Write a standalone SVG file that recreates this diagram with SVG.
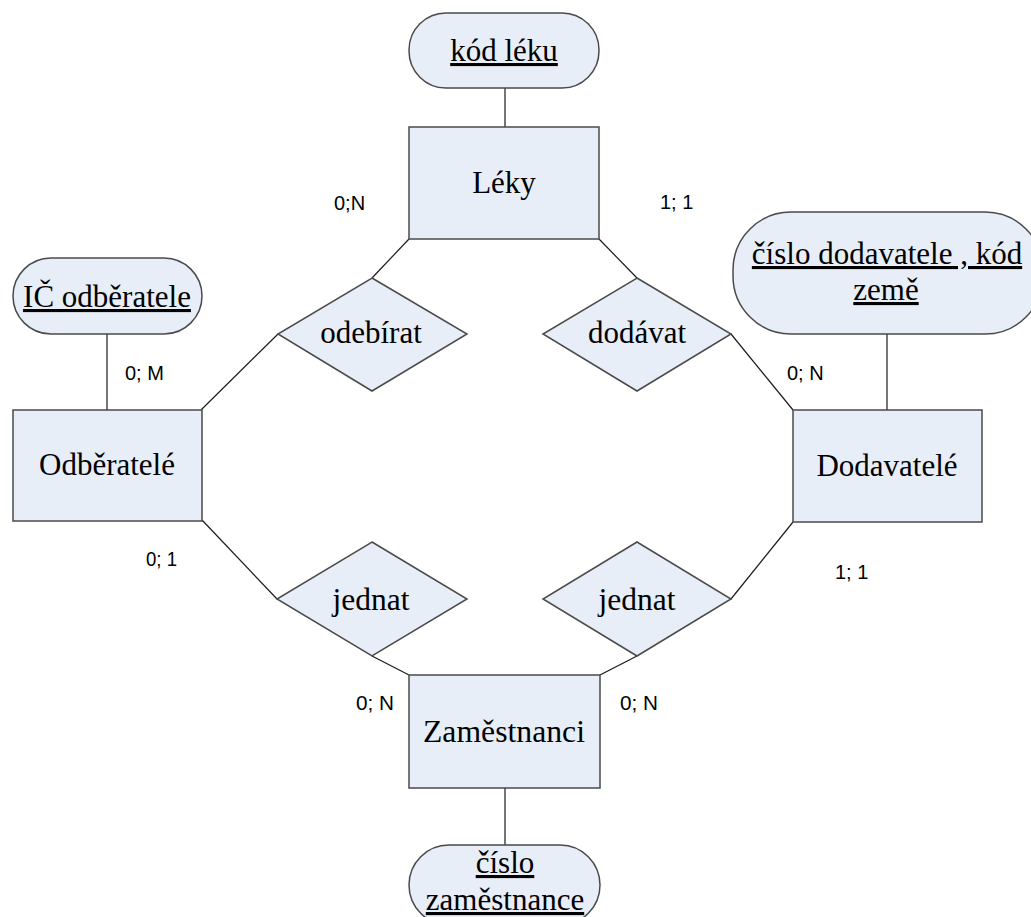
<svg xmlns="http://www.w3.org/2000/svg" width="1031" height="917" viewBox="0 0 1031 917">
<style>
.shape{fill:#E8EEF8;stroke:#4a4a4a;stroke-width:1.5}
.lbl{font-family:"Liberation Serif","Times New Roman",serif;font-size:31px;fill:#000;text-anchor:middle}
.key{text-decoration:underline}
.card{font-family:"Liberation Sans",Arial,sans-serif;font-size:20px;fill:#000}
.conn line{stroke:#1a1a1a;stroke-width:1.2}
</style>
<rect x="0" y="0" width="1031" height="917" fill="#fff"/>
<g class="conn" id="connectors">
<line x1="505" y1="88" x2="505" y2="127"/>
<line x1="107" y1="334" x2="107" y2="410"/>
<line x1="887" y1="334" x2="887" y2="410"/>
<line x1="505" y1="788" x2="505" y2="845"/>
<line x1="409" y1="239" x2="372" y2="278"/>
<line x1="278" y1="334" x2="201" y2="410"/>
<line x1="599" y1="239" x2="637" y2="278"/>
<line x1="731" y1="334" x2="793" y2="410"/>
<line x1="202" y1="520" x2="277" y2="599"/>
<line x1="372" y1="656" x2="409" y2="675"/>
<line x1="637" y1="656" x2="600" y2="675"/>
<line x1="731" y1="599" x2="793" y2="522"/>
</g>
<g id="attr-kod-leku">
<rect class="shape" x="409" y="13" width="190" height="75" rx="37" ry="37"/>
<text class="lbl key" x="504" y="61">kód léku</text>
</g>
<g id="entity-leky">
<rect class="shape" x="409" y="127" width="190" height="112"/>
<text class="lbl" x="504" y="193">Léky</text>
</g>
<g id="attr-ic">
<rect class="shape" x="13" y="258" width="189" height="76" rx="38" ry="38"/>
<text class="lbl key" x="107" y="307">IČ odběratele</text>
</g>
<g id="entity-odberatele">
<rect class="shape" x="13" y="410" width="189" height="111"/>
<text class="lbl" x="107" y="475">Odběratelé</text>
</g>
<g id="rel-odebirat">
<polygon class="shape" points="372,278 467,334 372,391 278,334"/>
<text class="lbl" x="371" y="343">odebírat</text>
</g>
<g id="rel-dodavat">
<polygon class="shape" points="637,278 731,334 637,391 543,334"/>
<text class="lbl" x="637" y="343">dodávat</text>
</g>
<g id="attr-cislo-dodavatele">
<rect class="shape" x="733" y="212" width="310" height="122" rx="58" ry="58"/>
<text class="lbl key" x="887" y="264">číslo dodavatele , kód</text>
<text class="lbl key" x="886" y="300">země</text>
</g>
<g id="entity-dodavatele">
<rect class="shape" x="793" y="410" width="189" height="112"/>
<text class="lbl" x="887" y="476">Dodavatelé</text>
</g>
<g id="rel-jednat-1">
<polygon class="shape" points="372,542 467,599 372,656 277,599"/>
<text class="lbl" x="371" y="610" font-size="29" textLength="77" lengthAdjust="spacingAndGlyphs">jednat</text>
</g>
<g id="rel-jednat-2">
<polygon class="shape" points="637,542 731,599 637,656 543,599"/>
<text class="lbl" x="637" y="610" font-size="29" textLength="77" lengthAdjust="spacingAndGlyphs">jednat</text>
</g>
<g id="entity-zamestnanci">
<rect class="shape" x="409" y="675" width="191" height="113"/>
<text class="lbl" x="504" y="742" textLength="162" lengthAdjust="spacingAndGlyphs">Zaměstnanci</text>
</g>
<g id="attr-cislo-zamestnance">
<rect class="shape" x="409" y="845" width="191" height="80" rx="40" ry="40"/>
<text class="lbl key" x="505" y="873">číslo</text>
<text class="lbl key" x="505" y="910">zaměstnance</text>
</g>
<g id="cardinalities">
<text class="card" x="334" y="210">0;N</text>
<text class="card" x="660" y="209">1; 1</text>
<text class="card" x="125" y="380">0; M</text>
<text class="card" x="787" y="380">0; N</text>
<text class="card" x="146" y="566" textLength="31" lengthAdjust="spacingAndGlyphs">0; 1</text>
<text class="card" x="835" y="579">1; 1</text>
<text class="card" x="356" y="710" textLength="38" lengthAdjust="spacingAndGlyphs">0; N</text>
<text class="card" x="620" y="710" textLength="38" lengthAdjust="spacingAndGlyphs">0; N</text>
</g>
</svg>
